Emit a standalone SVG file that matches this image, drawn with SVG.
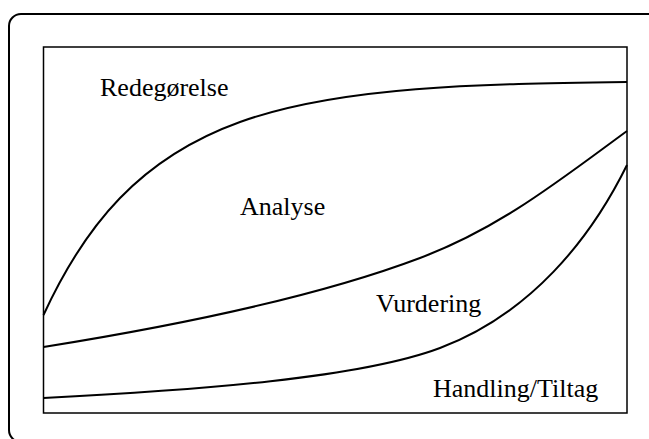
<svg xmlns="http://www.w3.org/2000/svg" width="649" height="439" viewBox="0 0 649 439">
  <style>
    .frame { fill: none; stroke: #000; stroke-width: 2; }
    .box { fill: #fff; stroke: #000; stroke-width: 1.5; }
    .curve { fill: none; stroke: #000; stroke-width: 2; }
    .label { font-family: "Liberation Serif", "Times New Roman", serif; font-size: 26px; fill: #000; }
  </style>
  <rect width="649" height="439" fill="#fff"/>
  <!-- outer rounded frame, running past the right and bottom edges -->
  <rect id="frame" class="frame" x="9" y="14" width="660" height="428" rx="12" ry="12"/>
  <!-- inner plot area -->
  <rect id="plot" class="box" x="43.5" y="47" width="583.5" height="366"/>
  <!-- boundary curves between the phases -->
  <g id="curves">
    <path class="curve" d="M43.5,315 C85,225 140,158 240,122 C340,86 480,84 627,82"/>
    <path class="curve" d="M43.5,347 C200,322 330,292 420,258 C500,228 560,180 627,131"/>
    <path class="curve" d="M43.5,398 C200,390 360,378 440,348 C530,314 590,240 627,165"/>
  </g>
  <g id="label-redegorelse"><text class="label" x="100" y="96">Redegørelse</text></g>
  <g id="label-analyse"><text class="label" x="240" y="215">Analyse</text></g>
  <g id="label-vurdering"><text class="label" x="376" y="312">Vurdering</text></g>
  <g id="label-handling"><text class="label" x="433" y="397">Handling/Tiltag</text></g>
</svg>
